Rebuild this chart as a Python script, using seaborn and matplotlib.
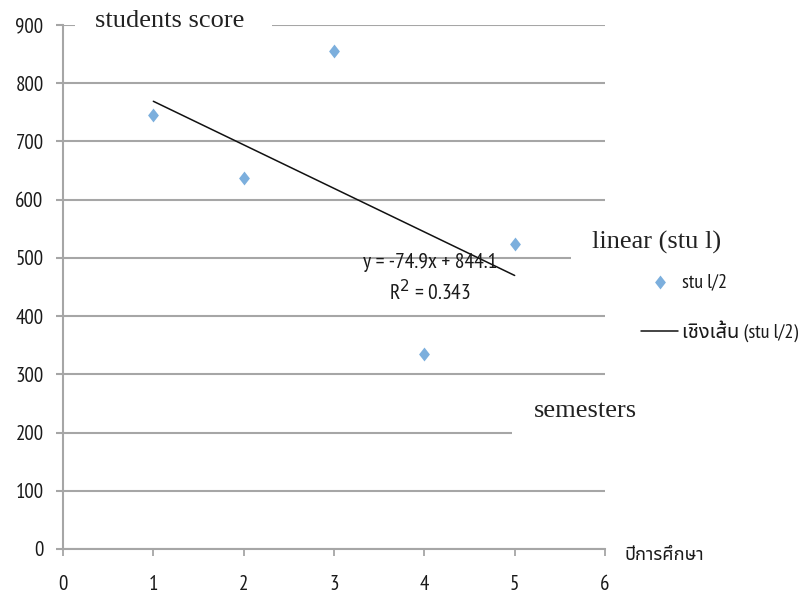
import matplotlib
matplotlib.use('Agg')
import matplotlib.pyplot as plt
from matplotlib.patches import Rectangle
from matplotlib.font_manager import FontProperties
import seaborn as sns

# data
semesters = [1, 2, 3, 4, 5]
scores = [746, 637, 856, 335, 523]
x_ticks = [0, 1, 2, 3, 4, 5, 6]
y_ticks = [0, 100, 200, 300, 400, 500, 600, 700, 800, 900]
series_label = 'stu l/2'
trend_label = 'เชิงเส้น (stu l/2)'
equation = 'y = -74.9x + 844.1'
r2_text = 'R$^2$ = 0.343'

sns.set_theme(style='white')
narrow = ['PT Sans Narrow', 'Noto Sans Thai UI', 'DejaVu Sans']
plt.rcParams['font.family'] = narrow
text_c = '#1a1a1a'

W, H = 809, 595
fig = plt.figure(figsize=(W / 100, H / 100), dpi=100)
ax = fig.add_axes([63 / W, 1 - 549 / H, (605 - 63) / W, (549 - 25) / H])

# Excel-like diamond, a bit taller than wide
diamond = [(0, 1), (0.78, 0), (0, -1), (-0.78, 0), (0, 1)]

sns.regplot(x=semesters, y=scores, ax=ax, ci=None, truncate=True, marker=diamond,
            label=series_label,
            scatter_kws={'color': '#5B9BD5', 's': 100, 'linewidths': 0, 'zorder': 3},
            line_kws={'color': '#111111', 'lw': 1.1, 'label': trend_label, 'zorder': 6})

grid_c = '#A6A6A6'
ax.set_xlim(0, 6)
ax.set_ylim(0, 900)
ax.set_xticks(x_ticks)
ax.set_yticks(y_ticks)
ax.set_xlabel('')
ax.set_ylabel('')
ax.yaxis.grid(True, color=grid_c, lw=1.5)
ax.xaxis.grid(False)
for side in ['top', 'right']:
    ax.spines[side].set_visible(False)
for side in ['left', 'bottom']:
    ax.spines[side].set_color(grid_c)
    ax.spines[side].set_linewidth(1.5)
ax.tick_params(axis='x', direction='out', length=5, width=1.3, color=grid_c, pad=14,
               labelsize=15, labelcolor=text_c)
ax.tick_params(axis='y', direction='out', length=5, width=1.5, color=grid_c, pad=9,
               labelsize=15, labelcolor=text_c)
ax.tick_params(bottom=True, left=True)

# x axis title to the right of the axis end
fig.text(625 / W, 1 - 555 / H, 'ปีการศึกษา', fontsize=13, va='center', ha='left',
         color=text_c, family=['Noto Sans Thai UI', 'DejaVu Sans'])

# trendline equation
fig.text(430 / W, 1 - 263 / H, equation, fontsize=15.5, ha='center', va='center',
         color=text_c, zorder=5)
fig.text(430 / W, 1 - 292 / H, r2_text, fontsize=15.5, ha='center', va='center',
         color=text_c, zorder=5)

# white boxes with serif captions laid over the grid
for (x0, y0, x1, y1) in [(75, 4, 272, 40), (571, 222, 745, 266), (512, 394, 650, 442)]:
    fig.patches.append(Rectangle((x0 / W, 1 - y1 / H), (x1 - x0) / W, (y1 - y0) / H,
                                 transform=fig.transFigure, facecolor='white',
                                 edgecolor='none', zorder=2))
serif = {'family': 'Liberation Serif', 'color': '#222222', 'zorder': 3}
fig.text(170 / W, 1 - 21 / H, 'students score', fontsize=19, ha='center', va='center', **serif)
fig.text(657 / W, 1 - 242 / H, 'linear (stu l)', fontsize=19, ha='center', va='center', **serif)
fig.text(585 / W, 1 - 411 / H, 'semesters', fontsize=19, ha='center', va='center', **serif)

# legend outside the plot
handles, labels = ax.get_legend_handles_labels()
leg = fig.legend(handles, labels, loc='upper left', bbox_to_anchor=(641 / W, 1 - 273 / H),
                 frameon=False, prop=FontProperties(family=narrow, size=14.5),
                 handlelength=1.85, handletextpad=0.2, labelspacing=1.45,
                 borderaxespad=0, borderpad=0, labelcolor=text_c)

fig.savefig('out.png', dpi=100)
